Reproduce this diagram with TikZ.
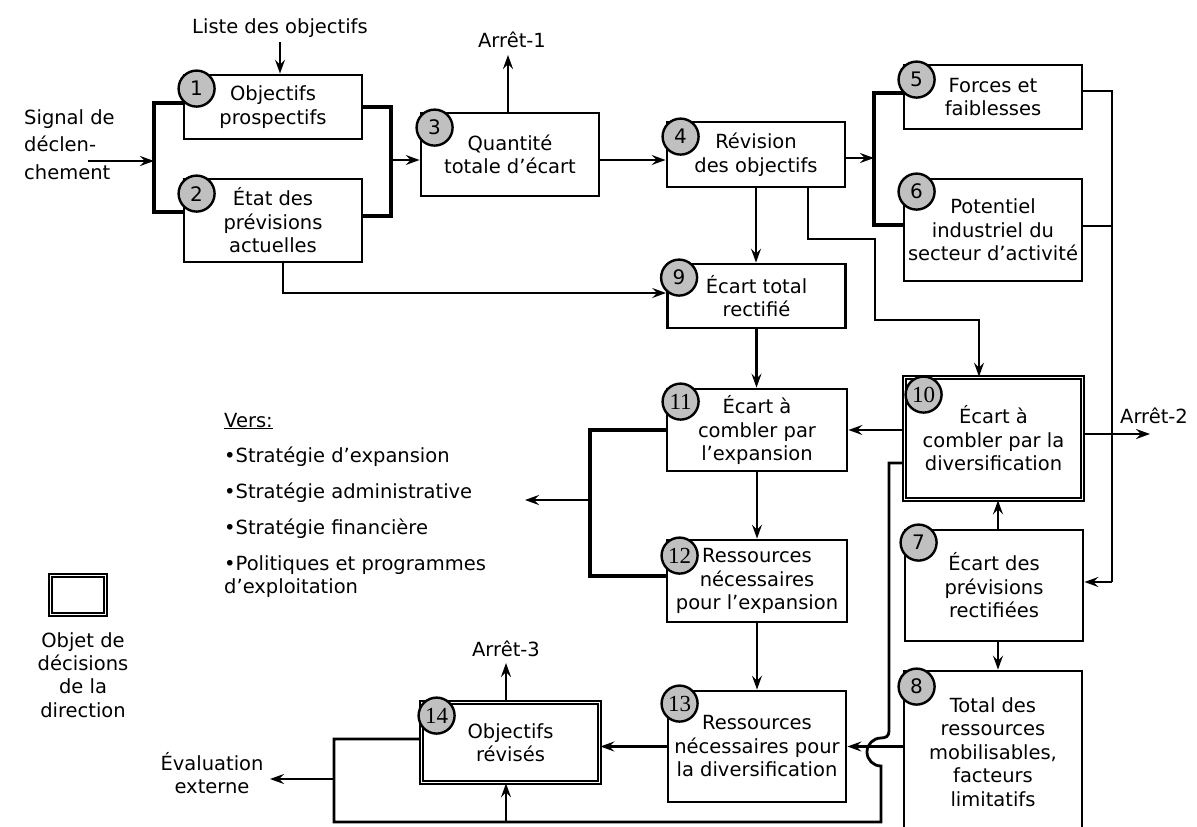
\documentclass[tikz,border=0pt]{standalone}
\usepackage{fontspec}
\setmainfont{DejaVu Sans}
\newfontfamily\numserif{Liberation Serif}
\usetikzlibrary{arrows.meta,calc}
\definecolor{numgray}{RGB}{192,192,192}
\newcommand\boxfont{\fontsize{19.5}{23.5}\selectfont}
\begin{document}
\begin{tikzpicture}[x=1pt,y=-1pt,
  box/.style={draw, line width=2.8pt, fill=white, align=center, font=\boxfont, inner sep=0pt},
  dbox/.style={box, line width=1.8pt, double=white, double distance=1.6pt},
  num/.style={circle, draw, line width=2.4pt, fill=numgray, minimum size=36pt, inner sep=0pt,
              font=\fontsize{20}{20}\selectfont},
  nums/.style={num, font=\numserif\fontsize{23}{23}\selectfont},
  conn/.style={line width=2.8pt},
  arr/.style={conn, -{Stealth[length=14pt,width=10pt,inset=5pt]}},
  brk/.style={line width=3.6pt},
  lbl/.style={font=\boxfont, inner sep=0pt},
]
\useasboundingbox (0,0) rectangle (1197,827);
\clip (0,0) rectangle (1197,827);

% ---------- process boxes ----------
\node[box, minimum width=178pt, minimum height=64pt]  (b1)  at (273,107)   {Objectifs\\prospectifs};
\node[box, minimum width=178pt, minimum height=83pt]  (b2)  at (273,220.5) {État des\\prévisions\\actuelles};
\node[box, minimum width=178pt, minimum height=83pt]  (b3)  at (510,154.5) {Quantité\\totale d’écart};
\node[box, minimum width=178pt, minimum height=65pt]  (b4)  at (756,154.5) {Révision\\des objectifs};
\node[box, minimum width=178pt, minimum height=64pt]  (b5)  at (993,97)    {Forces et\\faiblesses};
\node[box, minimum width=178pt, minimum height=102pt] (b6)  at (993,230)   {Potentiel\\industriel du\\secteur d’activité};
\node[box, minimum width=178pt, minimum height=64pt]  (b9)  at (756.5,296) {Écart total\\rectifié};
\node[dbox, minimum width=178pt, minimum height=122pt] (b10) at (993.5,438.5) {Écart à\\combler par la\\diversification};
\node[box, minimum width=180pt, minimum height=82pt]  (b11) at (757,430)   {Écart à\\combler par\\l’expansion};
\node[box, minimum width=180pt, minimum height=82pt]  (b12) at (757,581)   {Ressources\\nécessaires\\pour l’expansion};
\node[box, minimum width=178pt, minimum height=111pt] (b7)  at (994,585.5) {Écart des\\prévisions\\rectifiées};
\node[box, minimum width=178pt, minimum height=111pt] (b13) at (757,746.5) {Ressources\\nécessaires pour\\la diversification};
\node[dbox, minimum width=178pt, minimum height=80pt] (b14) at (510.5,742.5) {Objectifs\\révisés};
\node[box, minimum width=178pt, minimum height=162pt] (b8)  at (993,752)   {Total des\\ressources\\mobilisables,\\facteurs\\limitatifs};

% ---------- outside labels ----------
\node[lbl, anchor=base] (lst) at (280,33) {Liste des objectifs};
\node[lbl, align=left, anchor=north west, font=\fontsize{19.5}{27.5}\selectfont] (sig) at (24,109)
  {Signal de\\déclen-\\chement};
\node[lbl, anchor=base] (a1) at (512,47) {Arrêt-1};
\node[lbl, anchor=base] (a2) at (1154,423) {Arrêt-2};
\node[lbl, anchor=base] (a3) at (506,656) {Arrêt-3};
\node[lbl, anchor=base] (ev1) at (212,770) {Évaluation};
\node[lbl, anchor=base] (ev2) at (212,793) {externe};

\node[lbl, anchor=base west] (vers) at (224,427) {\underline{Vers:}};
\node[lbl, anchor=base west] (v1) at (224,462) {•Stratégie d’expansion};
\node[lbl, anchor=base west] (v2) at (224,498) {•Stratégie administrative};
\node[lbl, anchor=base west] (v3) at (224,534) {•Stratégie financière};
\node[lbl, anchor=base west] (v4) at (224,570) {•Politiques et programmes};
\node[lbl, anchor=base west] (v5) at (224,593) {d’exploitation};

% legend
\node[dbox, minimum width=55pt, minimum height=39pt] (leg) at (78,595) {};
\node[lbl, anchor=base] (lg1) at (83,647) {Objet de};
\node[lbl, anchor=base] (lg2) at (83,670) {décisions};
\node[lbl, anchor=base] (lg3) at (83,693) {de la};
\node[lbl, anchor=base] (lg4) at (83,717) {direction};

% ---------- junctions and free ends ----------
\coordinate (sigA) at (88,161);
\coordinate (j12)  at (154,161);
\coordinate (j12r) at (391,160);
\coordinate (j56)  at (874,158);
\coordinate (r56)  at (1112,582);
\coordinate (t1)   at (508,55);
\coordinate (t2)   at (1150,434);
\coordinate (t3)   at (506,663);
\coordinate (k1)   at (875,239);
\coordinate (k2)   at (979,320);
\coordinate (c7)   at (998,0);
\coordinate (j1112) at (590,500);
\coordinate (t4)   at (525,500);
\coordinate (lp1)  at (889,731);
\coordinate (lp2)  at (881,738);
\coordinate (lp3)  at (334,822);
\coordinate (t5)   at (506,822);
\coordinate (t6)   at (334,779);
\coordinate (t7)   at (270,779);

% ---------- connectors ----------
\draw[arr] ([yshift=-5pt]lst.south) -- (lst.south |- b1.north);
\draw[arr] (sigA) -- (j12);
\draw[brk] ([yshift=4pt]b1.west) -| (j12) |- ([yshift=8.5pt]b2.west);
\draw[brk] (b1.east) -| (j12r) |- ([yshift=4.5pt]b2.east);
\draw[arr] (j12r) -- (j12r -| b3.west);
\draw[arr] (b3.north -| t1) -- (t1);
\draw[arr] (b3.east |- j12r) -- (b4.west |- j12r);
\draw[arr] (b4.east |- j56) -- (j56);
\draw[brk] ([yshift=4pt]b5.west) -| (j56) |- ([yshift=5pt]b6.west);
\draw[conn] ([yshift=6pt]b5.east) -| (r56);
\draw[conn] ([yshift=4pt]b6.east) -- ([yshift=4pt]b6.east -| r56);
\draw[arr] (r56) -- (r56 -| b7.east);

\draw[arr] ([xshift=10pt]b2.south) |- ([yshift=3pt]b9.west);
\draw[arr] (b4.south) -- (b4.south |- b9.north);
\draw[arr] ([xshift=52pt]b4.south) |- (k1) |- (k2) -- (k2 |- b10.north);
\draw[arr] (b9.south) -- (b9.south |- b11.north);
\draw[arr] (b10.west |- b11.east) -- (b11.east);
\draw[arr] (b10.east |- t2) -- (t2);
\draw[arr] (b11.south) -- (b11.south |- b12.north);
\draw[arr] (b12.south) -- (b12.south |- b13.north);
\draw[arr] (b13.west) -- (b13.west -| b14.east);
\draw[arr] (b7.north -| c7) -- (b10.south -| c7);
\draw[arr] (b7.south -| c7) -- (b8.north -| c7);
\draw[arr] (b8.west |- b13.east) -- (b13.east);
\draw[arr] (b14.north -| t3) -- (t3);

\draw[brk] (b11.west) -| (j1112) |- ([yshift=5pt]b12.west);
\draw[arr] (j1112) -- (t4);

% feedback loop, hopping over the 8 -> 13 line
\draw[conn] ([yshift=-24.5pt]b10.west) -| (lp1)
  .. controls (889,736) and (886,738) .. (lp2)
  arc[start angle=90, end angle=270, radius=14pt]
  |- (lp3) |- ([yshift=3.5pt]b14.west);
\draw[arr] (t5) -- (t5 |- b14.south);
\draw[arr] (t6) -- (t7);

% ---------- step numbers ----------
\node[num]  at ($(b1.north west)+(14,15)$)  {1};
\node[num]  at ($(b2.north west)+(14,16)$)  {2};
\node[num]  at ($(b3.north west)+(15,16)$)  {3};
\node[num]  at ($(b4.north west)+(15,16)$)  {4};
\node[num]  at ($(b5.north west)+(14,16)$)  {5};
\node[num]  at ($(b6.north west)+(14,14)$)  {6};
\node[num]  at ($(b7.north west)+(15,14)$)  {7};
\node[num]  at ($(b8.north west)+(14,17)$)  {8};
\node[num]  at ($(b9.north west)+(13,15)$)  {9};
\node[nums] at ($(b10.north west)+(20,18)$) {10};
\node[nums] at ($(b11.north west)+(15,14)$) {11};
\node[nums] at ($(b12.north west)+(14,17)$) {12};
\node[nums] at ($(b13.north west)+(13,14)$) {13};
\node[nums] at ($(b14.north west)+(16,14)$) {14};
\end{tikzpicture}
\end{document}
